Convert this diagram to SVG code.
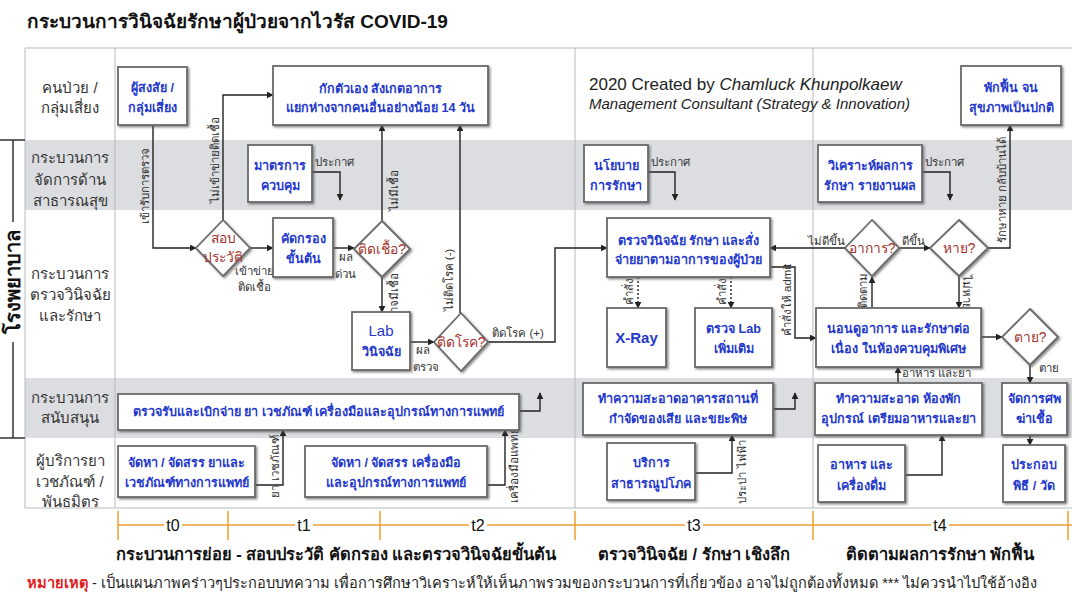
<svg xmlns="http://www.w3.org/2000/svg" width="1072" height="599" viewBox="0 0 1072 599">
<defs>
<style>
text{font-family:"Liberation Sans","Noto Sans","DejaVu Sans",sans-serif}
.title{font-size:19px;font-weight:bold;fill:#111}
.rl{font-size:15px;fill:#333;text-anchor:middle}
.bx{fill:#fff;stroke:#6a6a6a;stroke-width:1.8;filter:url(#sh)}
.bt{font-size:12.6px;font-weight:bold;fill:#2438cc;text-anchor:middle}
.dt{font-size:13.8px;fill:#a3322b;text-anchor:middle}
.cl{font-size:11.5px;fill:#333}
.cm{font-size:11.5px;fill:#333;text-anchor:middle}
.ln{fill:none;stroke:#222;stroke-width:1.4;marker-end:url(#ah)}
.dot{stroke-dasharray:2 2}
.grid{stroke:#b9b9b9;stroke-width:1;fill:none}
.tl{font-family:"Liberation Sans Narrow","Liberation Sans",sans-serif;font-size:16px;fill:#111;text-anchor:middle}
.sub{font-size:16.5px;font-weight:bold;fill:#111;text-anchor:middle}
</style>
<filter id="sh" x="-10%" y="-10%" width="125%" height="130%">
<feDropShadow dx="1.5" dy="1.5" stdDeviation="0.8" flood-color="#555" flood-opacity="0.7"/>
</filter>
<marker id="ah" viewBox="0 0 10 10" refX="9" refY="5" markerWidth="7" markerHeight="7" orient="auto" markerUnits="userSpaceOnUse">
<path d="M0,0 L10,5 L0,10 z" fill="#222"/>
</marker>
</defs>
<rect width="1072" height="599" fill="#fff"/>
<text class="title" x="27" y="28">กระบวนการวินิจฉัยรักษาผู้ป่วยจากไวรัส COVID-19</text>

<g id="lanes">
<rect x="25" y="140" width="1047" height="70" fill="#dcdde1"/>
<rect x="25" y="378" width="1047" height="60" fill="#dcdde1"/>
<path class="grid" d="M25,48 H1072 M25,48 V508 H1072 M115,48 V508 M575,48 V508 M813,48 V508"/>
<text class="rl" x="70" y="93">คนป่วย /</text>
<text class="rl" x="70" y="113">กลุ่มเสี่ยง</text>
<text class="rl" x="70" y="163">กระบวนการ</text>
<text class="rl" x="70" y="185">จัดการด้าน</text>
<text class="rl" x="70" y="206">สาธารณสุข</text>
<text class="rl" x="70" y="279">กระบวนการ</text>
<text class="rl" x="70" y="300">ตรวจวินิจฉัย</text>
<text class="rl" x="70" y="321">และรักษา</text>
<text class="rl" x="70" y="403">กระบวนการ</text>
<text class="rl" x="70" y="423">สนับสนุน</text>
<text class="rl" x="70" y="466">ผู้บริการยา</text>
<text class="rl" x="70" y="487">เวชภัณฑ์ /</text>
<text class="rl" x="70" y="507">พันธมิตร</text>
</g>

<g id="hospital">
<path d="M0,140 H25 M0,438 H25 M13,140 V222 M13,342 V438" stroke="#333" stroke-width="1.5" fill="none"/>
<text transform="translate(20,282) rotate(-90)" style="font-size:20px;font-weight:bold;fill:#111;text-anchor:middle">โรงพยาบาล</text>
</g>

<g id="credit">
<text x="589" y="90" style="font-size:17px;fill:#222">2020 Created by <tspan font-style="italic">Chamluck Khunpolkaew</tspan></text>
<text x="589" y="109" style="font-size:15px;font-style:italic;fill:#222">Management Consultant (Strategy &amp; Innovation)</text>
</g>

<g id="connectors">
<path class="ln" d="M153,125 V248 H196"/>
<text class="cm" transform="translate(149,186) rotate(-90)">เข้ารับการตรวจ</text>
<path class="ln" d="M223,220 V95 H273"/>
<text class="cm" transform="translate(219,160) rotate(-90)">ไม่เข้าข่ายติดเชื้อ</text>
<path class="ln" d="M250,248 H273"/>
<text class="cm" x="254" y="275">เข้าข่าย</text>
<text class="cm" x="254" y="291">ติดเชื้อ</text>
<path class="ln" d="M333,248 H354"/>
<text class="cm" x="346" y="261">ผล</text>
<text class="cm" x="345" y="278">ด่วน</text>
<path class="ln" d="M382,221 V125"/>
<text class="cm" transform="translate(398,190) rotate(-90)">ไม่มีเชื้อ</text>
<path class="ln" d="M382,277 V312"/>
<text class="cm" transform="translate(398,296) rotate(-90)">อาจมีเชื้อ</text>
<path class="ln" d="M410,342 H434"/>
<text class="cm" x="423" y="354">ผล</text>
<text class="cm" x="426" y="371">ตรวจ</text>
<path class="ln" d="M460,313 V125"/>
<text class="cm" transform="translate(453,280) rotate(-90)">ไม่ติดโรค (-)</text>
<path class="ln" d="M488,342 H555 V248 H607"/>
<text class="cm" x="518" y="337">ติดโรค (+)</text>
<path class="ln dot" d="M638,277 V308"/>
<text class="cm" transform="translate(633,291) rotate(-90)">คำสั่ง</text>
<path class="ln dot" d="M731,277 V308"/>
<text class="cm" transform="translate(726,291) rotate(-90)">คำสั่ง</text>
<path class="ln" d="M770,267 H795 V338 H816"/>
<text class="cm" transform="translate(791,300) rotate(-90)">คำสั่งให้ admit</text>
<path class="ln" d="M845,248 H770"/>
<text class="cm" x="826" y="245">ไม่ดีขึ้น</text>
<path class="ln" d="M899,248 H930"/>
<text class="cm" x="913" y="245">ดีขึ้น</text>
<path class="ln" d="M988,248 H1010 V125"/>
<text class="cm" transform="translate(1006,190) rotate(-90)">รักษาหาย กลับบ้านได้</text>
<path class="ln" d="M959,276 V308"/>
<text class="cm" transform="translate(963,292) rotate(90)">ไม่หาย</text>
<path class="ln" d="M872,308 V277"/>
<text class="cm" transform="translate(867,290) rotate(-90)">ติดตาม</text>
<path class="ln" d="M981,337 H1002"/>
<path class="ln" d="M1030,365 V383"/>
<text class="cl" x="1039" y="372">ตาย</text>
<path class="ln" d="M898,383 V367"/>
<text class="cl" x="902" y="377">อาหาร และยา</text>
<path class="ln" d="M773,409 H795 V393"/>
<path class="ln" d="M519,411 H540 V393"/>
<path class="ln" d="M255,485 H283 V430"/>
<text class="cm" transform="translate(279,466) rotate(-90)">ยา เวชภัณฑ์</text>
<path class="ln" d="M487,485 H505 V430"/>
<text class="cm" transform="translate(518,465) rotate(-90)">เครื่องมือแพทย์</text>
<path class="ln" d="M695,473 H732 V435"/>
<text class="cm" transform="translate(746,472) rotate(-90)">ประปา ไฟฟ้า</text>
<path class="ln" d="M905,475 H942 V435"/>
<path class="ln" d="M1030,435 V445"/>
<path class="ln" d="M312,172 H340 V200"/>
<text class="cl" x="315" y="166">ประกาศ</text>
<path class="ln" d="M648,172 H675 V200"/>
<text class="cl" x="651" y="166">ประกาศ</text>
<path class="ln" d="M922,172 H950 V200"/>
<text class="cl" x="925" y="166">ประกาศ</text>
</g>

<g id="n_patient"><rect class="bx" x="118" y="67" width="69" height="58"/><text class="bt" x="152.5" y="92">ผู้สงสัย /</text><text class="bt" x="152.5" y="112">กลุ่มเสี่ยง</text></g>
<g id="n_quarantine"><rect class="bx" x="273" y="66" width="215" height="59"/><text class="bt" x="380.5" y="93">กักตัวเอง สังเกตอาการ</text><text class="bt" x="380.5" y="112">แยกห่างจากคนอื่นอย่างน้อย 14 วัน</text></g>
<g id="n_measure"><rect class="bx" x="248" y="145" width="64" height="57"/><text class="bt" x="280" y="170">มาตรการ</text><text class="bt" x="280" y="190">ควบคุม</text></g>
<g id="n_history"><path class="bx" d="M223,220 L250,248 L223,276 L196,248 Z"/><text class="dt" x="223" y="243">สอบ</text><text class="dt" x="223" y="262">ประวัติ</text></g>
<g id="n_screen"><rect class="bx" x="273" y="218" width="60" height="59"/><text class="bt" x="303" y="243">คัดกรอง</text><text class="bt" x="303" y="263">ขั้นต้น</text></g>
<g id="n_infect"><path class="bx" d="M382,221 L410,249 L382,277 L354,249 Z"/><text class="dt" x="382" y="254">ติดเชื้อ?</text></g>
<g id="n_lab"><rect class="bx" x="352" y="312" width="58" height="58"/><text class="bt" x="381" y="336" style="font-weight:normal;font-size:15px">Lab</text><text class="bt" x="381" y="356">วินิจฉัย</text></g>
<g id="n_disease"><path class="bx" d="M461,313 L488,342 L461,371 L434,342 Z"/><text class="dt" x="461" y="347">ติดโรค?</text></g>
<g id="n_policy"><rect class="bx" x="584" y="145" width="64" height="57"/><text class="bt" x="616" y="170">นโยบาย</text><text class="bt" x="616" y="190">การรักษา</text></g>
<g id="n_diag"><rect class="bx" x="607" y="218" width="163" height="59"/><text class="bt" x="688.5" y="245">ตรวจวินิจฉัย รักษา และสั่ง</text><text class="bt" x="688.5" y="264">จ่ายยาตามอาการของผู้ป่วย</text></g>
<g id="n_xray"><rect class="bx" x="607" y="308" width="59" height="59"/><text class="bt" x="636.5" y="343" style="font-size:15px">X-Ray</text></g>
<g id="n_labmore"><rect class="bx" x="695" y="308" width="77" height="59"/><text class="bt" x="733.5" y="333">ตรวจ Lab</text><text class="bt" x="733.5" y="353">เพิ่มเติม</text></g>
<g id="n_analysis"><rect class="bx" x="818" y="145" width="104" height="57"/><text class="bt" x="870" y="170">วิเคราะห์ผลการ</text><text class="bt" x="870" y="190">รักษา รายงานผล</text></g>
<g id="n_recover"><rect class="bx" x="961" y="66" width="100" height="59"/><text class="bt" x="1011" y="92">พักฟื้น จน</text><text class="bt" x="1011" y="112">สุขภาพเป็นปกติ</text></g>
<g id="n_symptom"><path class="bx" d="M872,220 L899,248 L872,276 L845,248 Z"/><text class="dt" x="872" y="253">อาการ?</text></g>
<g id="n_healed"><path class="bx" d="M959,220 L988,248 L959,276 L930,248 Z"/><text class="dt" x="959" y="253">หาย?</text></g>
<g id="n_ward"><rect class="bx" x="816" y="308" width="165" height="59"/><text class="bt" x="898.5" y="333">นอนดูอาการ และรักษาต่อ</text><text class="bt" x="898.5" y="353">เนื่อง ในห้องควบคุมพิเศษ</text></g>
<g id="n_death"><path class="bx" d="M1030,309 L1058,337 L1030,365 L1002,337 Z"/><text class="dt" x="1030" y="342">ตาย?</text></g>
<g id="n_supply"><rect class="bx" x="118" y="394" width="401" height="36"/><text class="bt" x="318.5" y="416">ตรวจรับและเบิกจ่าย ยา เวชภัณฑ์ เครื่องมือและอุปกรณ์ทางการแพทย์</text></g>
<g id="n_clean1"><rect class="bx" x="583" y="383" width="190" height="52"/><text class="bt" x="678" y="403">ทำความสะอาดอาคารสถานที่</text><text class="bt" x="678" y="423">กำจัดของเสีย และขยะพิษ</text></g>
<g id="n_clean2"><rect class="bx" x="815" y="383" width="167" height="52"/><text class="bt" x="898.5" y="403">ทำความสะอาด ห้องพัก</text><text class="bt" x="898.5" y="423">อุปกรณ์ เตรียมอาหารและยา</text></g>
<g id="n_corpse"><rect class="bx" x="1002" y="383" width="65" height="52"/><text class="bt" x="1034.5" y="403">จัดการศพ</text><text class="bt" x="1034.5" y="423">ฆ่าเชื้อ</text></g>
<g id="n_drug"><rect class="bx" x="118" y="446" width="137" height="51"/><text class="bt" x="186.5" y="467">จัดหา / จัดสรร ยาและ</text><text class="bt" x="186.5" y="487">เวชภัณฑ์ทางการแพทย์</text></g>
<g id="n_equip"><rect class="bx" x="305" y="446" width="182" height="51"/><text class="bt" x="396" y="467">จัดหา / จัดสรร เครื่องมือ</text><text class="bt" x="396" y="487">และอุปกรณ์ทางการแพทย์</text></g>
<g id="n_utility"><rect class="bx" x="607" y="443" width="88" height="57"/><text class="bt" x="651" y="467">บริการ</text><text class="bt" x="651" y="488">สาธารณูปโภค</text></g>
<g id="n_food"><rect class="bx" x="818" y="445" width="87" height="57"/><text class="bt" x="861.5" y="469">อาหาร และ</text><text class="bt" x="861.5" y="490">เครื่องดื่ม</text></g>
<g id="n_rite"><rect class="bx" x="1003" y="445" width="62" height="57"/><text class="bt" x="1034" y="469">ประกอบ</text><text class="bt" x="1034" y="490">พิธี / วัด</text></g>

<g id="timeline">
<path d="M118,525 H1072 M118,511 V540 M228,511 V540 M380,511 V540 M575,511 V540 M813,511 V540 M1068,511 V540" stroke="#f0a030" stroke-width="1.5" fill="none"/>
<rect x="164" y="515" width="18" height="20" fill="#fff"/><text class="tl" x="173" y="531">t0</text>
<rect x="295" y="515" width="18" height="20" fill="#fff"/><text class="tl" x="304" y="531">t1</text>
<rect x="469" y="515" width="18" height="20" fill="#fff"/><text class="tl" x="478" y="531">t2</text>
<rect x="685" y="515" width="18" height="20" fill="#fff"/><text class="tl" x="694" y="531">t3</text>
<rect x="931" y="515" width="18" height="20" fill="#fff"/><text class="tl" x="940" y="531">t4</text>
<text class="sub" x="336" y="560">กระบวนการย่อย - สอบประวัติ คัดกรอง และตรวจวินิจฉัยขั้นต้น</text>
<text class="sub" x="694" y="560">ตรวจวินิจฉัย / รักษา เชิงลึก</text>
<text class="sub" x="940" y="560">ติดตามผลการรักษา พักฟื้น</text>
<text x="27" y="588" style="font-size:14.6px;fill:#222"><tspan style="fill:#e02020;font-weight:bold">หมายเหตุ</tspan> - เป็นแผนภาพคร่าวๆประกอบบทความ เพื่อการศึกษาวิเคราะห์ให้เห็นภาพรวมของกระบวนการที่เกี่ยวข้อง อาจไม่ถูกต้องทั้งหมด *** ไม่ควรนำไปใช้อ้างอิง</text>
</g>
</svg>
